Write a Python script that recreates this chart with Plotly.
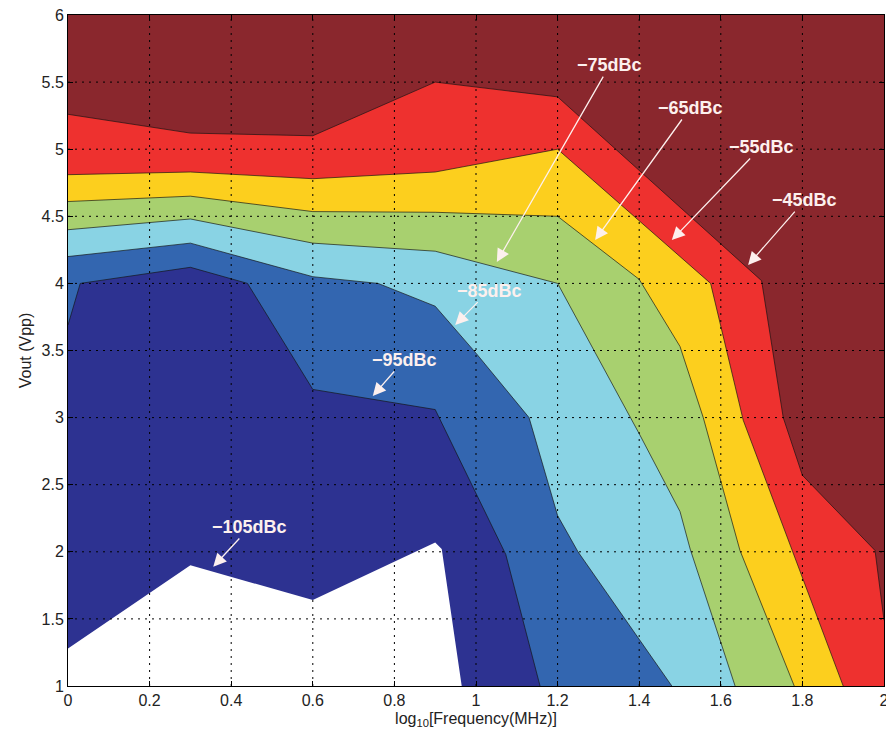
import plotly.graph_objects as go

# 등고선 경계 (log10 주파수, Vout) - 그림에서 읽은 값
b45_x = [0, 0.3, 0.6, 0.9, 1.2, 1.70, 1.753, 1.80, 1.978, 2.0]
b45_y = [5.26, 5.12, 5.10, 5.50, 5.39, 4.02, 3.0, 2.57, 2.01, 1.49]

b55_x = [0, 0.3, 0.6, 0.9, 1.2, 1.575, 1.655, 1.90]
b55_y = [4.81, 4.83, 4.78, 4.83, 5.0, 4.0, 2.98, 1.0]

b65_x = [0, 0.3, 0.6, 0.9, 1.2, 1.40, 1.50, 1.557, 1.647, 1.78]
b65_y = [4.61, 4.65, 4.535, 4.53, 4.50, 4.03, 3.53, 3.0, 2.01, 1.0]

b75_x = [0, 0.3, 0.6, 0.9, 1.2, 1.40, 1.50, 1.525, 1.635]
b75_y = [4.40, 4.48, 4.30, 4.24, 4.0, 2.88, 2.30, 2.02, 1.0]

b85_x = [0, 0.3, 0.6, 0.76, 0.9, 1.0, 1.13, 1.20, 1.25, 1.48]
b85_y = [4.20, 4.30, 4.05, 4.0, 3.83, 3.48, 3.0, 2.27, 2.0, 1.0]

b95_x = [0, 0.03, 0.3, 0.44, 0.6, 0.9, 1.073, 1.157]
b95_y = [3.69, 4.0, 4.12, 4.0, 3.21, 3.06, 1.98, 1.0]

b105_x = [0, 0.3, 0.6, 0.9, 0.916, 0.965]
b105_y = [1.28, 1.90, 1.64, 2.07, 2.02, 1.0]

boundaries = [
    (b45_x, b45_y),
    (b55_x, b55_y),
    (b65_x, b65_y),
    (b75_x, b75_y),
    (b85_x, b85_y),
    (b95_x, b95_y),
    (b105_x, b105_y),
]

# 각 경계 아래 영역 색 (위 -> 아래)
top_color = "#8A272D"
fill_colors = ["#EE312F", "#FCCF1E", "#A8D06F", "#89D3E4", "#3366B0", "#2D3291", "#FFFFFF"]
show_edge = [True, True, True, True, True, True, False]

# 라벨 위치와 화살표 끝
labels = ["−45dBc", "−55dBc", "−65dBc", "−75dBc", "−85dBc", "−95dBc", "−105dBc"]
label_x = [1.806, 1.699, 1.525, 1.328, 1.032, 0.824, 0.446]
label_y = [4.621, 5.016, 5.307, 5.627, 3.946, 3.429, 2.185]
head_x = [1.667, 1.480, 1.292, 1.051, 0.949, 0.747, 0.356]
head_y = [4.137, 4.323, 4.323, 4.159, 3.690, 3.161, 1.889]

x_ticks = [0, 0.2, 0.4, 0.6, 0.8, 1, 1.2, 1.4, 1.6, 1.8, 2]
y_ticks = [1, 1.5, 2, 2.5, 3, 3.5, 4, 4.5, 5, 5.5, 6]
x_min, x_max = 0, 2
y_min, y_max = 1, 6

fig = go.Figure()

# 채움 영역
for (bx, by), color in zip(boundaries, fill_colors):
    px = list(bx)
    py = list(by)
    if py[-1] > y_min:
        px.append(px[-1])
        py.append(y_min)
    px.append(x_min)
    py.append(y_min)
    fig.add_trace(
        go.Scatter(
            x=px,
            y=py,
            mode="lines",
            fill="toself",
            fillcolor=color,
            line=dict(width=0, color=color),
            hoverinfo="skip",
            showlegend=False,
        )
    )

# 경계선
for (bx, by), edge in zip(boundaries, show_edge):
    if not edge:
        continue
    fig.add_trace(
        go.Scatter(
            x=bx,
            y=by,
            mode="lines",
            line=dict(width=0.9, color="rgba(20,20,20,0.75)"),
            hoverinfo="skip",
            showlegend=False,
        )
    )

# 점선 격자 (채움 위에)
grid_line = dict(color="black", width=1, dash="2px,5px")
for t in x_ticks[1:-1]:
    fig.add_shape(type="line", xref="x", yref="paper", x0=t, x1=t, y0=0, y1=1,
                  line=grid_line, layer="above")
for t in y_ticks[1:-1]:
    fig.add_shape(type="line", xref="paper", yref="y", x0=0, x1=1, y0=t, y1=t,
                  line=grid_line, layer="above")

# 라벨과 화살표 (라벨 아래에서 화살표 시작)
for i, txt in enumerate(labels):
    fig.add_annotation(
        x=head_x[i], y=head_y[i], ax=label_x[i], ay=label_y[i],
        axref="x", ayref="y", text=f"<b>{txt}</b>", showarrow=True,
        arrowhead=2, arrowsize=2, arrowwidth=1.3, arrowcolor="#FDF0EE",
        font=dict(family="Liberation Sans, Arial", size=18, color="#FDF0EE"),
    )

axis_font = dict(family="Liberation Sans, Arial", size=16, color="#222222")

fig.update_xaxes(
    range=[x_min, x_max],
    tickvals=x_ticks,
    ticktext=[f"{t:g}" for t in x_ticks],
    showgrid=False,
    zeroline=False,
    showline=True,
    linecolor="black",
    linewidth=1,
    mirror="ticks",
    ticks="inside",
    ticklen=5,
    tickcolor="black",
    tickfont=axis_font,
    ticklabeloverflow="allow",
    layer="above traces",
    automargin=False,
    title=dict(text="log<sub>10</sub>[Frequency(MHz)]", font=axis_font, standoff=4),
)
fig.update_yaxes(
    range=[y_min, y_max],
    tickvals=y_ticks,
    ticktext=[f"{t:g}" for t in y_ticks],
    showgrid=False,
    zeroline=False,
    showline=True,
    linecolor="black",
    linewidth=1,
    mirror="ticks",
    ticks="inside",
    ticklen=5,
    tickcolor="black",
    tickfont=axis_font,
    ticklabeloverflow="allow",
    layer="above traces",
    automargin=False,
    title=dict(text="Vout (Vpp)", font=axis_font, standoff=5),
)

fig.update_layout(
    width=886,
    height=738,
    margin=dict(l=68, r=2, t=15, b=52),
    paper_bgcolor="white",
    plot_bgcolor=top_color,
    showlegend=False,
)

# 페이지 기본 여백 제거
fig.write_html(
    "out.html",
    config={"displayModeBar": False},
    post_script="document.body.style.margin='0';",
)
